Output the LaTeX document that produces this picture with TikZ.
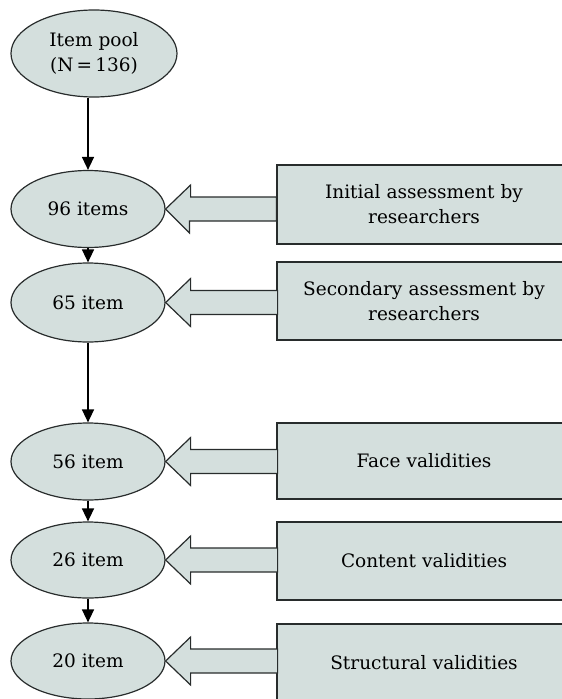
\documentclass[tikz,border=0pt]{standalone}
\usepackage{fontspec}
\setmainfont{DejaVu Serif}
\usepackage{tikz}
\usetikzlibrary{positioning,shapes.geometric,arrows.meta}
\definecolor{boxfill}{RGB}{212,223,221}
\definecolor{boxline}{RGB}{40,44,44}

\begin{document}
\begin{tikzpicture}[x=1pt,y=-1pt,
        every node/.style={font=\fontsize{18.5}{25}\selectfont},
        stage/.style={draw=boxline,fill=boxfill,ellipse,line width=1.2pt,inner sep=0pt,minimum width=154pt,minimum height=77pt,align=center},
        task/.style={draw=boxline,fill=boxfill,rectangle,line width=1.2pt,inner sep=0pt,minimum width=294pt,minimum height=78pt,align=center,text width=285pt},
        flow/.style={-{Triangle[length=13pt,width=12pt]},line width=1.4pt},
        hollow/.style={draw=boxline,fill=boxfill,line width=1.2pt,line join=miter}]
        \path[use as bounding box,clip] (0,0) rectangle (562,699);
        \node[stage,minimum width=166pt,minimum height=87pt] (pool) at (94,53.5) {Item pool\\(N\,=\,136)};
        \node[stage] (e96) at (88,209) {96 items};
        \node[stage,minimum height=79pt] (e65) at (88,302.5) {65 item};
        \node[stage] (e56) at (88,461.5) {56 item};
        \node[stage,minimum height=76pt] (e26) at (88,560) {26 item};
        \node[stage,minimum height=76pt] (e20) at (88,661) {20 item};
        \node[task,minimum height=79pt] (r1) at (424,204.5) {Initial assessment by\\researchers};
        \node[task] (r2) at (424,301) {Secondary assessment by\\researchers};
        \node[task,minimum height=76pt] (r3) at (424,461) {Face validities};
        \node[task] (r4) at (424,561) {Content validities};
        \node[task] (r5) at (424,663) {Structural validities};
        \draw[flow] (pool.south -| e96.north) -- (e96.north);
        \draw[flow] (e96) -- (e65);
        \draw[flow] (e65) -- (e56);
        \draw[flow] (e56) -- (e26);
        \draw[flow] (e26) -- (e20);
        \draw[hollow] (e96.east) -- ++(25,-24) -- ++(0,12) -- (r1.west |- 0,197) -- (r1.west |- 0,221) -- ++(-87,0) -- ++(0,12) -- cycle;
        \draw[hollow] (e65.east) -- ++(25,-24) -- ++(0,12) -- ++(87,0) -- ++(0,24) -- ++(-87,0) -- ++(0,12) -- cycle;
        \draw[hollow] (e56.east) -- ++(25,-24) -- ++(0,12) -- ++(87,0) -- ++(0,24) -- ++(-87,0) -- ++(0,12) -- cycle;
        \draw[hollow] (e26.east) -- ++(25,-24) -- ++(0,12) -- ++(87,0) -- ++(0,24) -- ++(-87,0) -- ++(0,12) -- cycle;
        \draw[hollow] (e20.east) -- ++(25,-24) -- ++(0,12) -- ++(87,0) -- ++(0,24) -- ++(-87,0) -- ++(0,12) -- cycle;
    \end{tikzpicture}
\end{document}
